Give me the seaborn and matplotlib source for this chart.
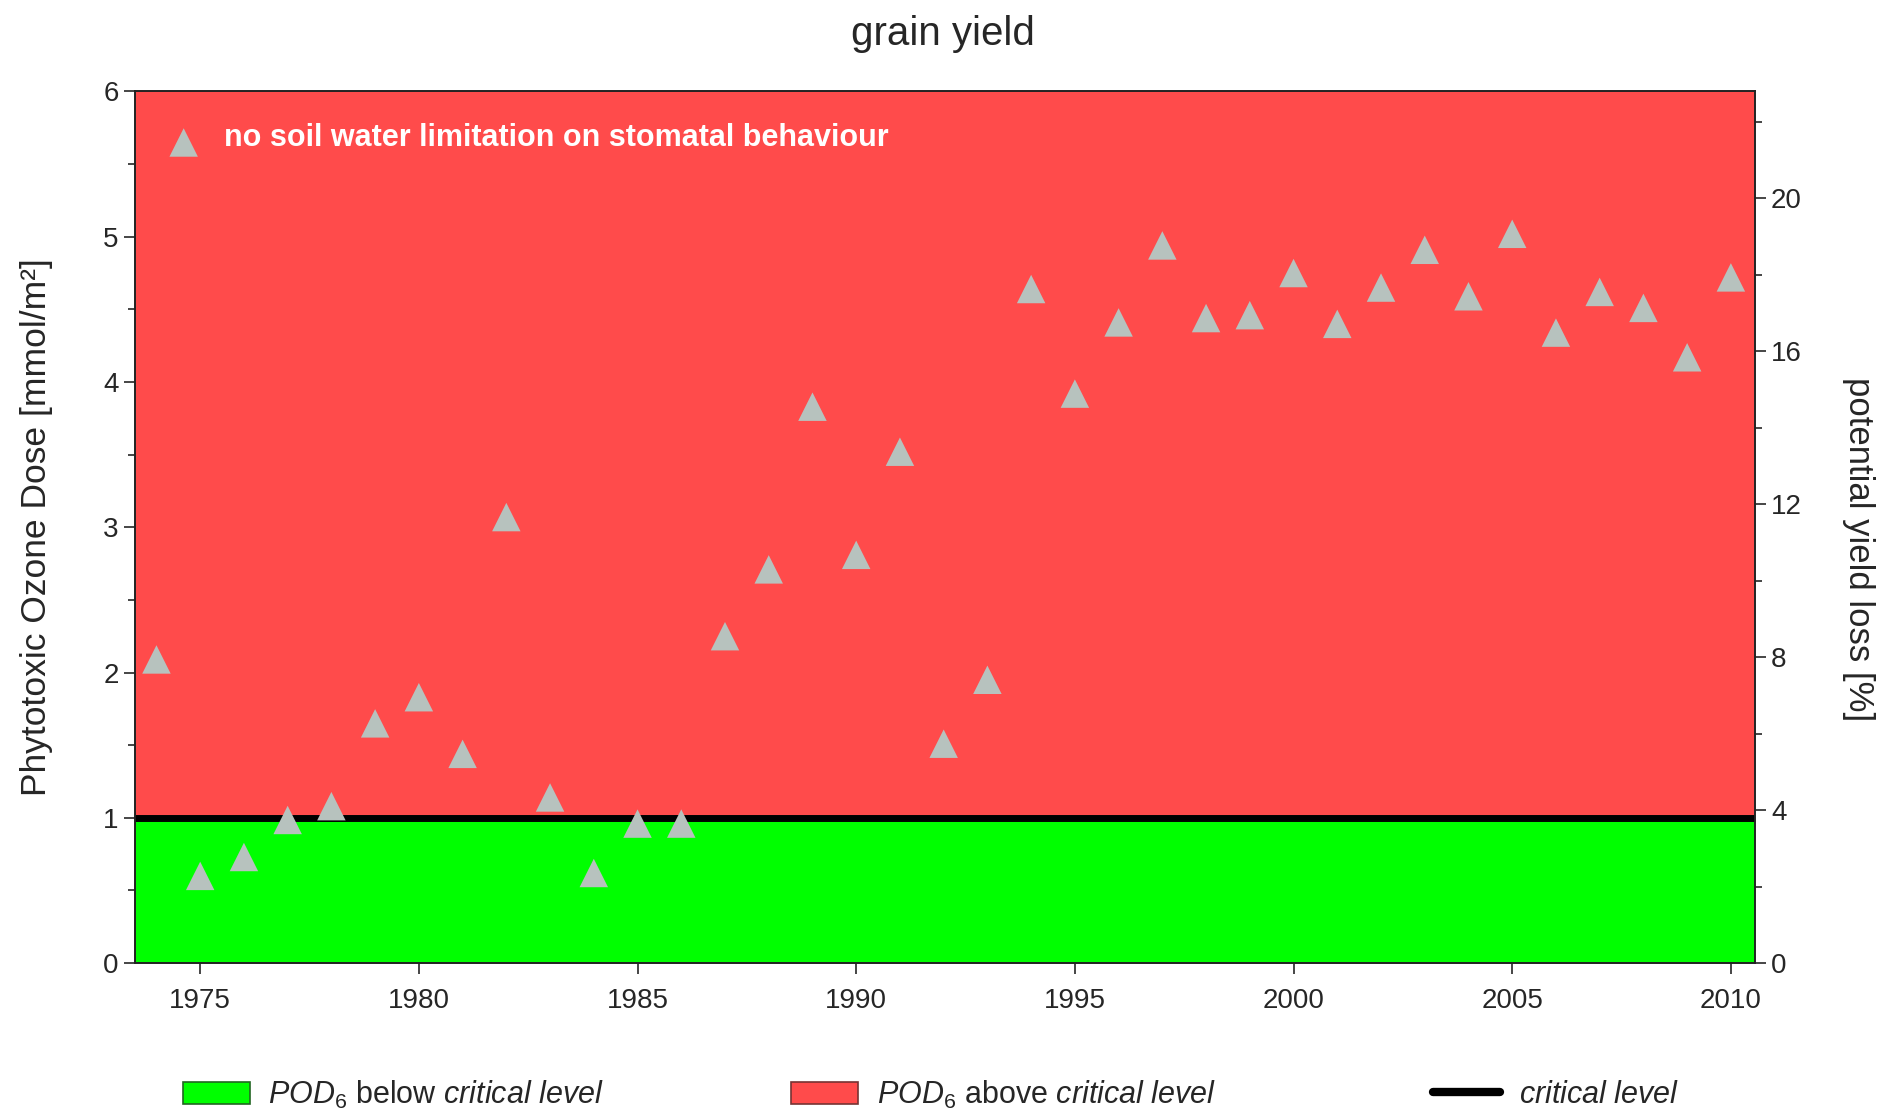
import pandas as pd
import seaborn as sns
import matplotlib.pyplot as plt
from matplotlib.patches import Patch
from matplotlib.lines import Line2D
from matplotlib.ticker import MultipleLocator

# values
years = list(range(1974, 2011))
pod6 = [2.09, 0.60, 0.73, 0.985, 1.08, 1.65, 1.83, 1.44, 3.07, 1.14,
        0.62, 0.96, 0.96, 2.25, 2.71, 3.83, 2.81, 3.52, 1.51, 1.95,
        4.64, 3.92, 4.41, 4.94, 4.44, 4.46, 4.75, 4.40, 4.65, 4.91,
        4.59, 5.02, 4.34, 4.62, 4.51, 4.17, 4.72]
critical_level = 1.0
pod_ticks = [0, 1, 2, 3, 4, 5, 6]
loss_ticks = [0, 4, 8, 12, 16, 20]
year_ticks = [1975, 1980, 1985, 1990, 1995, 2000, 2005, 2010]

GREEN = '#00ff00'
RED = '#ff4b4b'
TRI = '#b7c2be'

sns.set_style('ticks')
plt.rcParams['font.family'] = ['Liberation Sans', 'DejaVu Sans']
plt.rcParams['mathtext.fontset'] = 'custom'
plt.rcParams['mathtext.rm'] = 'Liberation Sans'
plt.rcParams['mathtext.it'] = 'Liberation Sans:italic'

df = pd.DataFrame({'year': years, 'pod6': pod6})

fig = plt.figure(figsize=(18.85, 11.18), dpi=100)
ax = fig.add_axes([0.0714, 0.1386, 0.8596, 0.7796])

ax.axhspan(0, critical_level, color=GREEN, lw=0, zorder=0)
ax.axhspan(critical_level, 6, color=RED, lw=0, zorder=0)
ax.axhline(critical_level, color='black', lw=5, zorder=1)

sns.scatterplot(data=df, x='year', y='pod6', marker='^', s=420, color=TRI,
                edgecolor='none', linewidth=0, ax=ax, zorder=3,
                label='no soil water limitation on stomatal behaviour')

ax.set_xlim(1973.5, 2010.55)
ax.set_ylim(0, 6)
ax.set_xticks(year_ticks)
ax.set_yticks(pod_ticks)
ax.yaxis.set_minor_locator(MultipleLocator(0.5))
ax.tick_params(axis='both', which='major', labelsize=20, length=8, width=1.2)
ax.tick_params(axis='y', which='minor', length=5, width=1.2)
ax.tick_params(axis='x', pad=10)
ax.set_xlabel('')
ax.set_ylabel('Phytotoxic Ozone Dose [mmol/m²]', fontsize=25.5, labelpad=36)

leg = ax.legend(loc='upper left', bbox_to_anchor=(0.014, 0.978), frameon=False,
                handletextpad=1.9, markerscale=1.0)
for t in leg.get_texts():
    t.set_color('white')
    t.set_fontweight('bold')
    t.set_fontsize(22)

ax2 = ax.twinx()
ax2.set_ylim(0, 22.8)
ax2.set_yticks(loss_ticks)
ax2.yaxis.set_minor_locator(MultipleLocator(2))
ax2.tick_params(axis='y', which='major', labelsize=20, length=8, width=1.2)
ax2.tick_params(axis='y', which='minor', length=5, width=1.2)
ax2.set_ylabel('potential yield loss [%]', fontsize=25, rotation=270)
ax2.yaxis.set_label_coords(1.074, 0.475)

for a in (ax, ax2):
    for sp in a.spines.values():
        sp.set_linewidth(1.2)
        sp.set_color('#222222')

fig.suptitle('grain yield', fontsize=29, y=0.987)

# bottom legend: three separate entries placed like the reference
handles = [Patch(facecolor=GREEN, edgecolor='#226622', lw=1.2),
           Patch(facecolor=RED, edgecolor='#773333', lw=1.2),
           Line2D([0], [0], color='black', lw=6)]
labels = [r'$\mathit{POD}_6$ below $\mathit{critical\ level}$',
          r'$\mathit{POD}_6$ above $\mathit{critical\ level}$',
          r'$\mathit{critical\ level}$']
x_starts = [0.0969, 0.4197, 0.7603]
for h, lab, x0 in zip(handles, labels, x_starts):
    fig.legend([h], [lab], loc='center left', bbox_to_anchor=(x0, 0.021),
               frameon=False, fontsize=22, borderpad=0, borderaxespad=0,
               handlelength=2.2, handleheight=0.75, handletextpad=0.6)

fig.savefig('out.png', dpi=100)
